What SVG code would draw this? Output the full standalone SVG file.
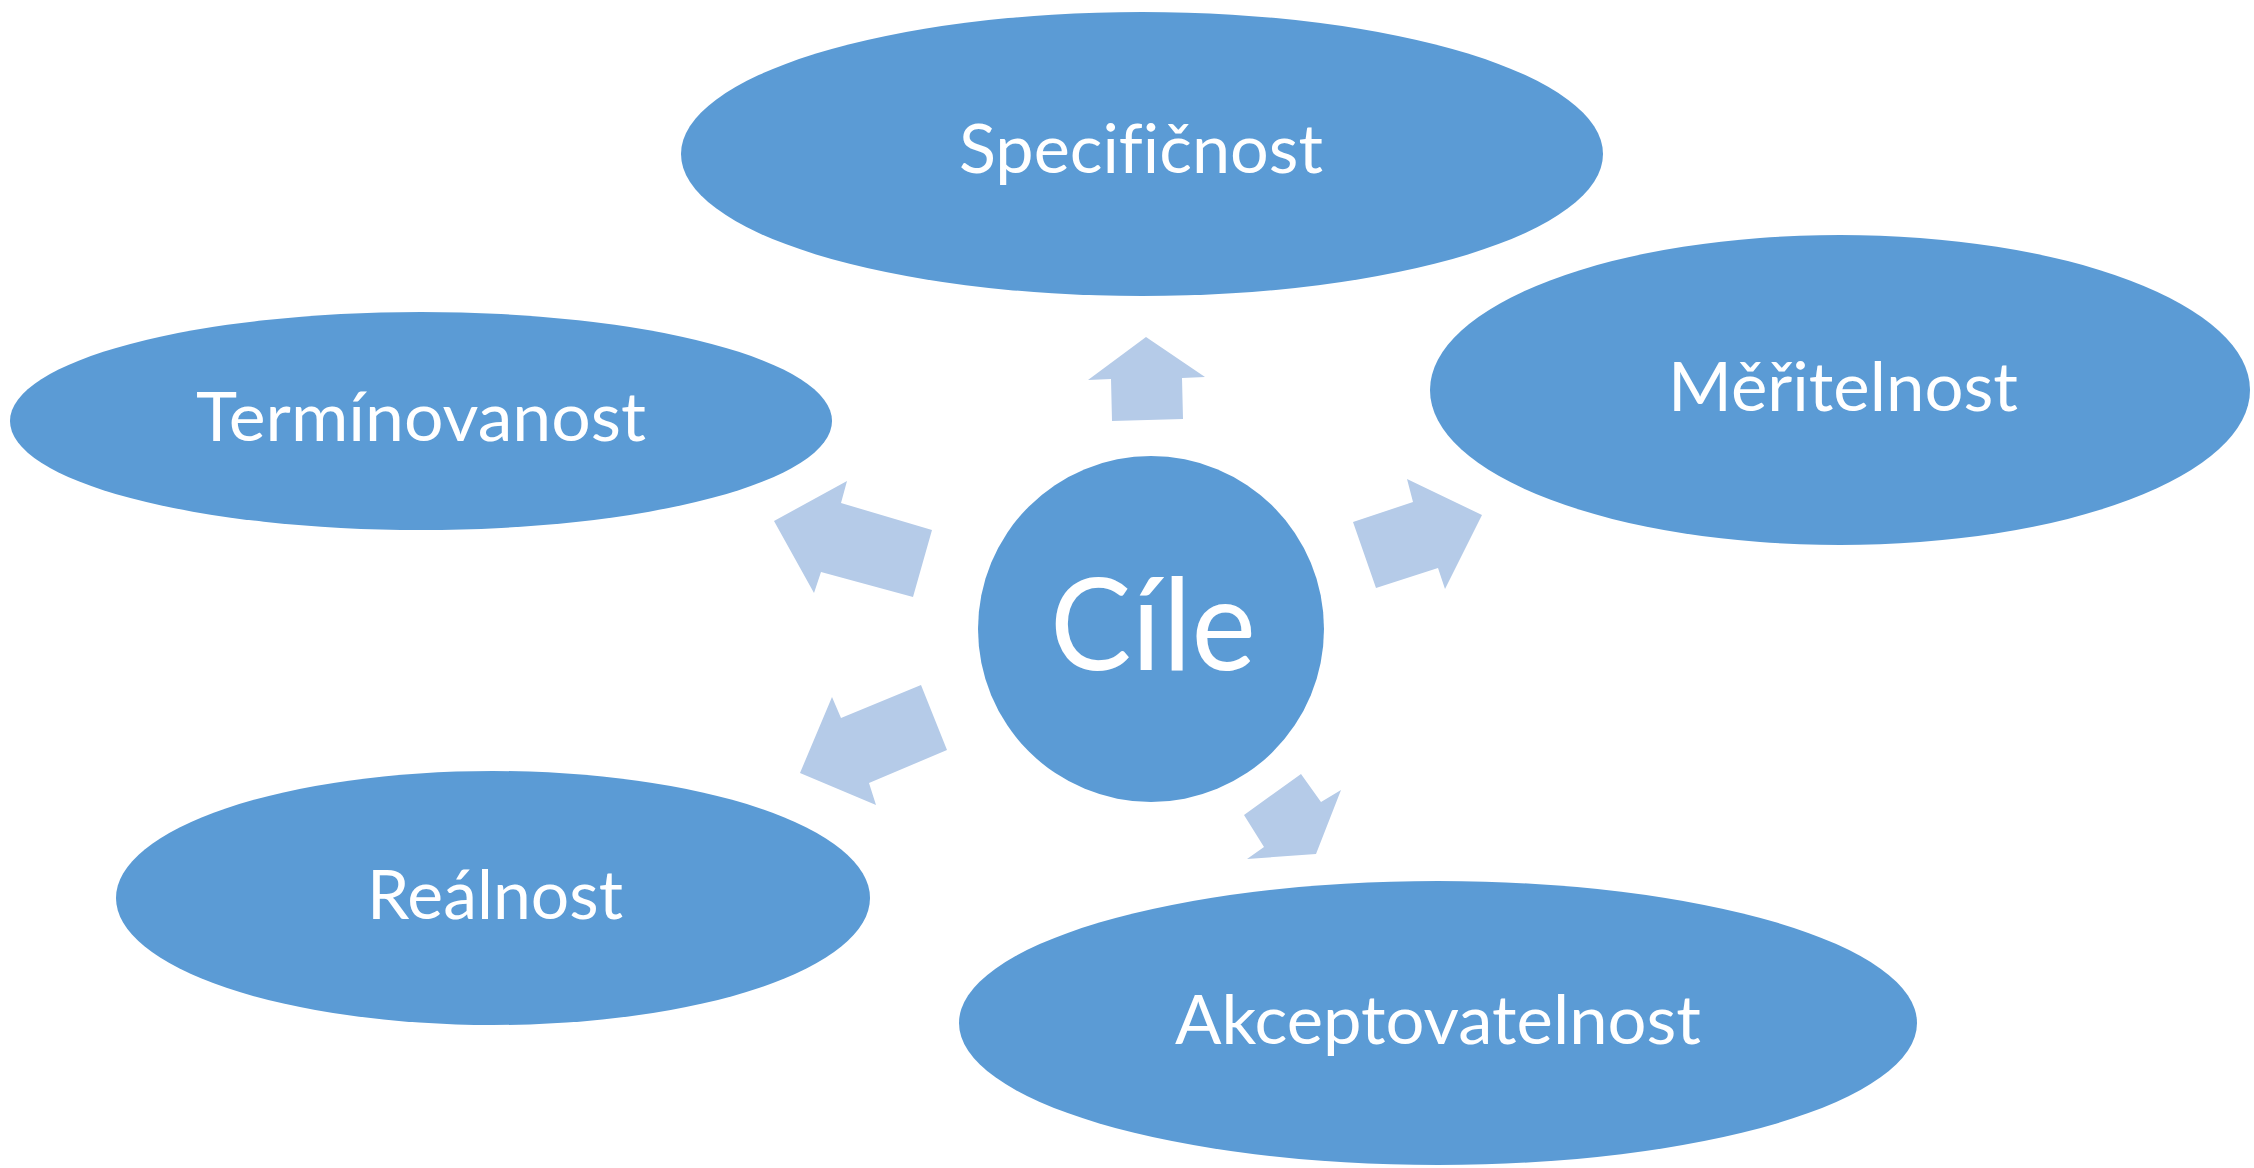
<svg xmlns="http://www.w3.org/2000/svg" width="2254" height="1168" viewBox="0 0 2254 1168">
  <style>
    .node { fill: #5B9BD5; }
    .lbl { fill: #FFFFFF; font-family: "Lato", "Open Sans", "Liberation Sans", sans-serif; font-size: 67px; text-anchor: middle; font-variant-ligatures: none; font-feature-settings: "liga" 0, "clig" 0; }
    .hub { font-size: 128px; }
    .arrow { fill: #B5CBE8; stroke: none; }
  </style>
  <rect width="2254" height="1168" fill="#FFFFFF"/>

  <!-- block arrows radiating from the hub -->
  <g id="connectors">
    <polygon class="arrow" points="1146,337 1205,377 1182,378 1183,419 1112,421 1111,379 1088,380"/>
    <polygon class="arrow" points="1482,515 1445,589 1438,568 1376,588 1353,522 1413,502 1407,479"/>
    <polygon class="arrow" points="774,521 847,481 841,503 932,530 913,597 821,572 814,593"/>
    <polygon class="arrow" points="800,773 832,697 841,718 921,685 947,750 869,783 876,805"/>
    <polygon class="arrow" points="1244,815 1301,774 1321,802 1341,790 1316,854 1247,859 1264,847"/>
  </g>

  <g id="node-specificnost">
    <ellipse class="node" cx="1142" cy="154" rx="461" ry="142"/>
    <text class="lbl" x="1141" y="173" textLength="364" lengthAdjust="spacingAndGlyphs">Specifičnost</text>
  </g>

  <g id="node-meritelnost">
    <ellipse class="node" cx="1840" cy="390" rx="410" ry="155"/>
    <text class="lbl" x="1843" y="411" textLength="350" lengthAdjust="spacingAndGlyphs">Měřitelnost</text>
  </g>

  <g id="node-terminovanost">
    <ellipse class="node" cx="421" cy="421" rx="411" ry="109"/>
    <text class="lbl" x="421" y="441" textLength="450" lengthAdjust="spacingAndGlyphs">Termínovanost</text>
  </g>

  <g id="node-realnost">
    <ellipse class="node" cx="493" cy="898" rx="377" ry="127"/>
    <text class="lbl" x="495" y="919" textLength="256" lengthAdjust="spacingAndGlyphs">Reálnost</text>
  </g>

  <g id="node-akceptovatelnost">
    <ellipse class="node" cx="1438" cy="1023" rx="479" ry="142"/>
    <text class="lbl" x="1438" y="1044" textLength="526" lengthAdjust="spacingAndGlyphs">Akceptovatelnost</text>
  </g>

  <g id="node-cile">
    <circle class="node" cx="1151" cy="629" r="173"/>
    <text class="lbl hub" x="1153" y="670" textLength="206" lengthAdjust="spacingAndGlyphs">Cíle</text>
  </g>
</svg>
